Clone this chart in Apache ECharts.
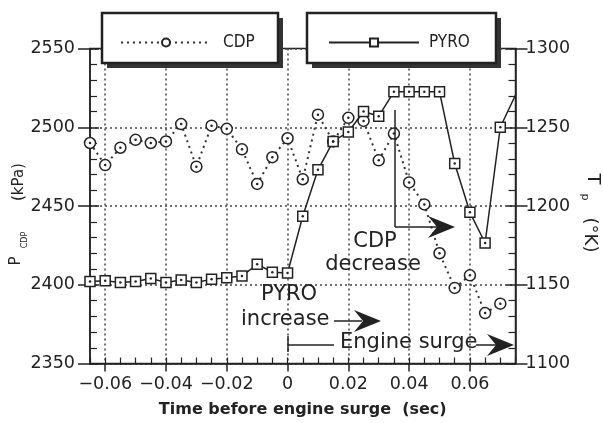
<!DOCTYPE html>
<html>
<head>
<meta charset="utf-8">
<script src="https://cdn.jsdelivr.net/npm/echarts@6/dist/echarts.min.js"></script>
<style>
  html, body { margin: 0; padding: 0; background: #fff; }
  #surge-chart { width: 603px; height: 423px; }
</style>
</head>
<body>
<div id="surge-chart"></div>
<script>
// time before engine surge (sec), one category every 0.005 s
const timeTicks = [-0.065, -0.06, -0.055, -0.05, -0.045, -0.04, -0.035, -0.03, -0.025, -0.02,
  -0.015, -0.01, -0.005, 0, 0.005, 0.01, 0.015, 0.02, 0.025, 0.03, 0.035, 0.04, 0.045, 0.05,
  0.055, 0.06, 0.065, 0.07, 0.075];
// compressor discharge pressure (kPa)
const cdpPressure = [2490, 2476, 2487, 2492, 2490, 2491, 2502, 2475, 2501, 2499,
  2486, 2464, 2481, 2493, 2467, 2508, 2491, 2506, 2504, 2479, 2496, 2465, 2451, 2420,
  2398, 2406, 2382, 2388, null];
// pyrometer temperature (K)
const pyroTemp = [1152, 1152.5, 1151.5, 1152, 1154, 1151.5, 1153, 1151.5, 1153.5, 1154.5,
  1155.5, 1163, 1158, 1157.5, 1193.5, 1223, 1241, 1247, 1260, 1257, 1272.5, 1272.5, 1272.5, 1272.5,
  1227, 1196, 1176.5, 1250, 1270.5];
const pressureTicks = [2350, 2400, 2450, 2500, 2550];
const tempTicks = [1100, 1150, 1200, 1250, 1300];
const labelledTimes = [-0.06, -0.04, -0.02, 0, 0.02, 0.04, 0.06];

const ink = "#222";
const tickFont = "DejaVu Sans";
const isMajor = (i) => labelledTimes.some((t) => Math.abs(t - timeTicks[i]) < 1e-9);

const chart = echarts.init(document.getElementById("surge-chart"));

// last pyro point only carries the line to the axis edge
const pyroData = pyroTemp.map((v, i) => (i === pyroTemp.length - 1 ? { value: v, symbol: "none" } : v));

function arrowHead(tipX, tipY) {
  return {
    type: "polygon",
    z: 6,
    shape: { points: [[tipX, tipY], [tipX - 27, tipY - 11], [tipX - 18, tipY], [tipX - 27, tipY + 11]] },
    style: { fill: ink },
  };
}
function seg(x1, y1, x2, y2) {
  return { type: "line", z: 6, shape: { x1, y1, x2, y2 }, style: { stroke: ink, lineWidth: 1.5 } };
}
function txt(text, x, y, size, rot, extra) {
  return {
    type: "text", z: 6, x, y, rotation: rot || 0,
    style: Object.assign({ text, fill: ink, fontSize: size, fontFamily: tickFont, align: "center", verticalAlign: "middle" }, extra || {}),
  };
}

const yMain = (min, max, pos, split) => ({
  type: "value", min, max, interval: 50, position: pos,
  axisLine: { show: true, lineStyle: { color: ink, width: 1.5 } },
  axisTick: { show: true, inside: true, length: 9, lineStyle: { color: ink, width: 1.5 } },
  minorTick: { show: true, splitNumber: 5, length: 7, lineStyle: { color: ink, width: 1.2 } },
  axisLabel: { show: false },
  splitLine: { show: split, lineStyle: { color: "#444", width: 1.5, type: [2, 3] } },
});
const yOuter = (min, max, pos, margin) => ({
  type: "value", min, max, interval: 50, position: pos,
  axisLine: { show: false },
  axisTick: { show: true, inside: false, length: 12, lineStyle: { color: ink, width: 1.5 } },
  axisLabel: { show: true, margin, color: ink, fontFamily: tickFont, fontSize: 17.5, formatter: (v) => String(v) },
  splitLine: { show: false },
});

const option = {
  backgroundColor: "#fff",
  animation: false,
  grid: { left: 90, right: 87.5, top: 48.5, bottom: 59.5, show: true, borderColor: ink, borderWidth: 1.5 },
  legend: [
    {
      data: ["CDP"], left: 120, top: 34, z: 8, padding: 0, itemWidth: 90, itemHeight: 10,
      textStyle: { color: ink, fontFamily: "'Liberation Sans Narrow', 'DejaVu Sans Condensed', sans-serif", fontSize: 17, padding: [0, 0, 0, 7] },
    },
    {
      data: ["PYRO"], left: 328, top: 34, z: 8, padding: 0, itemWidth: 90, itemHeight: 10,
      textStyle: { color: ink, fontFamily: "'Liberation Sans Narrow', 'DejaVu Sans Condensed', sans-serif", fontSize: 17, padding: [0, 0, 0, 5] },
    },
  ],
  xAxis: [
    {
      type: "category", data: timeTicks, boundaryGap: false, position: "bottom",
      axisLine: { show: true, lineStyle: { color: ink, width: 1.5 } },
      axisTick: { show: true, inside: true, length: 6, interval: 0, lineStyle: { color: ink, width: 1.2 } },
      axisLabel: { show: false },
      splitLine: { show: true, interval: (i) => isMajor(i), lineStyle: { color: "#444", width: 1.5, type: [2, 3] } },
    },
    {
      type: "category", data: timeTicks, boundaryGap: false, position: "bottom",
      axisLine: { show: false },
      axisTick: { show: true, inside: false, length: 8, interval: (i) => isMajor(i), lineStyle: { color: ink, width: 1.5 } },
      axisLabel: {
        interval: (i) => isMajor(i), margin: 12, color: ink, fontFamily: tickFont, fontSize: 17.5,
        formatter: (v) => String(Number(v)).replace("-", "\u2212"),
      },
      splitLine: { show: false },
      name: "Time before engine surge  (sec)", nameLocation: "middle", nameGap: 38,
      nameTextStyle: { color: ink, fontFamily: tickFont, fontWeight: "bold", fontSize: 16 },
    },
  ],
  yAxis: [
    yMain(pressureTicks[0], pressureTicks[pressureTicks.length - 1], "left", true),
    yMain(tempTicks[0], tempTicks[tempTicks.length - 1], "right", false),
    yOuter(pressureTicks[0], pressureTicks[pressureTicks.length - 1], "left", 15),
    yOuter(tempTicks[0], tempTicks[tempTicks.length - 1], "right", 10),
  ],
  series: [
    {
      name: "CDP", type: "line", xAxisIndex: 0, yAxisIndex: 0, data: cdpPressure, z: 3,
      symbol: "circle", symbolSize: 11, showAllSymbol: true,
      itemStyle: { color: "#fff", borderColor: ink, borderWidth: 1.5 },
      lineStyle: { color: "#333", width: 2, type: [2, 4] },
    },
    {
      name: "PYRO", type: "line", xAxisIndex: 0, yAxisIndex: 1, data: pyroData, z: 3,
      symbol: "rect", symbolSize: 10, showAllSymbol: true,
      itemStyle: { color: "#fff", borderColor: ink, borderWidth: 1.5 },
      lineStyle: { color: ink, width: 1.5 },
    },
    {
      name: "cdp-dot", type: "line", xAxisIndex: 0, yAxisIndex: 0, data: cdpPressure, z: 4, silent: true,
      symbol: "circle", symbolSize: 2.5, itemStyle: { color: ink }, lineStyle: { width: 0, opacity: 0 },
    },
    {
      name: "pyro-dot", type: "line", xAxisIndex: 0, yAxisIndex: 1, data: pyroTemp.slice(0, -1), z: 4, silent: true,
      symbol: "circle", symbolSize: 2.5, itemStyle: { color: ink }, lineStyle: { width: 0, opacity: 0 },
    },
  ],
  graphic: [
    // legend boxes with drop shadow
    { type: "rect", z: 5, shape: { x: 107, y: 18, width: 176, height: 50 }, style: { fill: "#333" } },
    { type: "rect", z: 5, shape: { x: 102, y: 13, width: 176, height: 50 }, style: { fill: "#fff", stroke: ink, lineWidth: 2.5 } },
    { type: "rect", z: 5, shape: { x: 312, y: 18, width: 189, height: 50 }, style: { fill: "#333" } },
    { type: "rect", z: 5, shape: { x: 307, y: 13, width: 189, height: 50 }, style: { fill: "#fff", stroke: ink, lineWidth: 2.5 } },
    // left axis title
    txt("P", 16, 261, 15, Math.PI / 2),
    txt("CDP", 25, 240, 8, Math.PI / 2),
    txt("(kPa)", 19, 182, 15, Math.PI / 2),
    // right axis title
    txt("T", 593, 179, 18, -Math.PI / 2),
    txt("p", 585, 197, 11, -Math.PI / 2),
    txt("(°K)", 590, 235, 18, -Math.PI / 2),
    // PYRO increase
    txt("PYRO", 289, 295, 21),
    txt("increase", 241, 320, 21, 0, { align: "left" }),
    seg(334, 321, 362, 321),
    arrowHead(381, 321),
    // Engine surge
    seg(288, 336, 288, 352),
    seg(288, 345, 334, 345),
    txt("Engine surge", 340, 343, 21, 0, { align: "left" }),
    seg(476, 345, 496, 345),
    arrowHead(514, 345),
    // CDP decrease
    txt("CDP", 375, 242, 21),
    txt("decrease", 373, 265, 21),
    seg(395, 110, 395, 227),
    seg(395, 227, 437, 227),
    arrowHead(455, 227),
  ],
};

option && chart.setOption(option);
</script>
</body>
</html>
